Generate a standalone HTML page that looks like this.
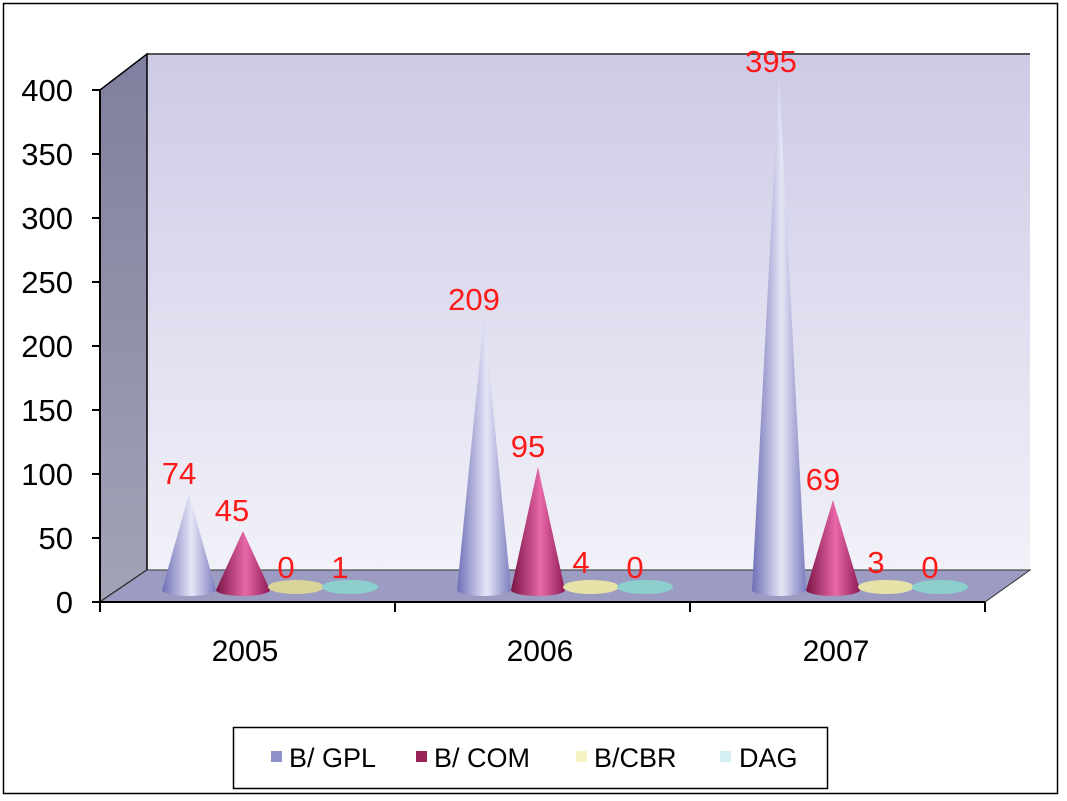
<!DOCTYPE html>
<html><head><style>body{margin:0;background:#fff}svg{display:block}text{font-family:"Liberation Sans",Arial,sans-serif}</style></head><body>
<svg width="1067" height="801" viewBox="0 0 1067 801">
<defs>
<linearGradient id="wall" x1="0" y1="0" x2="0" y2="1"><stop offset="0" stop-color="#cdcae6"/><stop offset="1" stop-color="#f1f1f8"/></linearGradient>
<linearGradient id="side" x1="0" y1="0" x2="0" y2="1"><stop offset="0" stop-color="#7f7f9f"/><stop offset="1" stop-color="#a3a3b6"/></linearGradient>
<linearGradient id="gpl" x1="0" y1="0" x2="1" y2="0"><stop offset="0" stop-color="#6f6fb8"/><stop offset="0.55" stop-color="#e6e6f6"/><stop offset="1" stop-color="#7d7dc0"/></linearGradient>
<linearGradient id="com" x1="0" y1="0" x2="1" y2="0"><stop offset="0" stop-color="#7a1445"/><stop offset="0.55" stop-color="#e868a8"/><stop offset="1" stop-color="#8e1a55"/></linearGradient>
</defs>
<rect x="3.5" y="3.5" width="1054" height="790" fill="#fff" stroke="#000" stroke-width="1.5"/>
<rect x="147" y="54" width="883" height="516" fill="url(#wall)"/>
<line x1="147" y1="54" x2="1030" y2="54" stroke="#555" stroke-width="2"/>
<polygon points="100,90 147,54 147,570 100,602" fill="url(#side)" stroke="#000" stroke-width="1.5"/>
<polygon points="100,602 147,570 1030,570 985,602" fill="#9c9cc2" stroke="#333" stroke-width="1"/>
<line x1="100" y1="90" x2="100" y2="602" stroke="#000" stroke-width="2"/>
<line x1="100" y1="602" x2="985" y2="602" stroke="#000" stroke-width="2"/>
<g stroke="#000" stroke-width="2">
<line x1="92" y1="90" x2="100" y2="90"/><line x1="92" y1="154" x2="100" y2="154"/><line x1="92" y1="218" x2="100" y2="218"/><line x1="92" y1="282" x2="100" y2="282"/><line x1="92" y1="346" x2="100" y2="346"/><line x1="92" y1="410" x2="100" y2="410"/><line x1="92" y1="474" x2="100" y2="474"/><line x1="92" y1="538" x2="100" y2="538"/><line x1="92" y1="602" x2="100" y2="602"/>
<line x1="100" y1="602" x2="100" y2="612"/><line x1="395" y1="602" x2="395" y2="612"/><line x1="690" y1="602" x2="690" y2="612"/><line x1="985" y1="602" x2="985" y2="612"/>
</g>
<g font-size="31" text-anchor="end" fill="#000">
<text x="73" y="101">400</text><text x="73" y="165">350</text><text x="73" y="229">300</text><text x="73" y="293">250</text><text x="73" y="357">200</text><text x="73" y="421">150</text><text x="73" y="485">100</text><text x="73" y="549">50</text><text x="73" y="613">0</text>
</g>
<g font-size="30" text-anchor="middle"><text x="245" y="661">2005</text><text x="540" y="661">2006</text><text x="836" y="661">2007</text></g>
<g>
<path d="M162,590 L189,494 L216,590 A27,6 0 0 1 162,590Z" fill="url(#gpl)"/>
<path d="M216,590 L243,531 L270,590 A27,6 0 0 1 216,590Z" fill="url(#com)"/>
<ellipse cx="296" cy="587" rx="28" ry="7" fill="#d8d49a"/>
<ellipse cx="350" cy="587" rx="28" ry="7" fill="#8ccfcc"/>
<path d="M457,590 L484,318 L511,590 A27,6 0 0 1 457,590Z" fill="url(#gpl)"/>
<path d="M511,590 L538,467 L565,590 A27,6 0 0 1 511,590Z" fill="url(#com)"/>
<ellipse cx="591" cy="587" rx="28" ry="7" fill="#e6e2a8"/>
<ellipse cx="645" cy="587" rx="28" ry="7" fill="#8ccfcc"/>
<path d="M752,590 L779,78 L806,590 A27,6 0 0 1 752,590Z" fill="url(#gpl)"/>
<path d="M806,590 L833,500 L860,590 A27,6 0 0 1 806,590Z" fill="url(#com)"/>
<ellipse cx="886" cy="587" rx="28" ry="7" fill="#e6e2a8"/>
<ellipse cx="940" cy="587" rx="28" ry="7" fill="#8ccfcc"/>
</g>
<g font-size="31" fill="#ff1a1a" text-anchor="middle">
<text x="179" y="484">74</text><text x="232" y="521">45</text><text x="286" y="578">0</text><text x="340" y="578">1</text>
<text x="474" y="310">209</text><text x="528" y="457">95</text><text x="581" y="573">4</text><text x="635" y="578">0</text>
<text x="771" y="72">395</text><text x="823" y="490">69</text><text x="876" y="573">3</text><text x="930" y="578">0</text>
</g>
<rect x="233.5" y="727.5" width="594" height="61" fill="#fff" stroke="#000" stroke-width="1.5"/>
<rect x="271" y="751" width="11" height="11" fill="#9090c8"/>
<rect x="416" y="751" width="11" height="11" fill="#9a2358"/>
<rect x="576" y="751" width="11" height="11" fill="#f5f2c4"/>
<rect x="720" y="751" width="11" height="11" fill="#d3eff2"/>
<g font-size="27"><text x="289" y="767">B/ GPL</text><text x="434" y="767">B/ COM</text><text x="594" y="767">B/CBR</text><text x="739" y="767">DAG</text></g>
</svg>
</body></html>
